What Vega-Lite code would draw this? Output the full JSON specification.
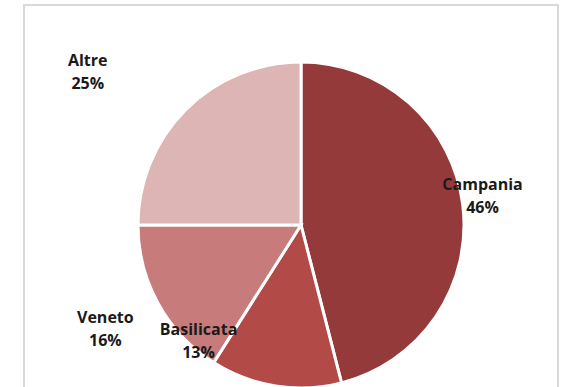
{
  "$schema": "https://vega.github.io/schema/vega-lite/v6.json",
  "width": 534,
  "height": 440,
  "padding": {"left": 23, "top": 4, "right": 11, "bottom": 0},
  "background": "white",
  "config": {"view": {"stroke": null}},
  "data": {"values": [
    {"region": "Campania", "value": 46, "idx": 1},
    {"region": "Basilicata", "value": 13, "idx": 2},
    {"region": "Veneto", "value": 16, "idx": 3},
    {"region": "Altre", "value": 25, "idx": 4}
  ]},
  "layer": [
    {
      "data": {"values": [{"frame": 1}]},
      "mark": {"type": "rect", "fill": null, "fillOpacity": 0, "stroke": "#d9d9d9", "strokeWidth": 2},
      "encoding": {}
    },
    {
      "transform": [{"calculate": "datum.region + '\\n' + datum.value + '%'", "as": "label"}],
      "encoding": {
        "theta": {"field": "value", "type": "quantitative", "stack": true},
        "order": {"field": "idx", "type": "quantitative", "sort": "ascending"}
      },
      "layer": [
        {
          "mark": {"type": "arc", "radius": 163, "stroke": "white", "strokeWidth": 3, "xOffset": 10},
          "encoding": {
            "color": {"field": "region", "type": "nominal", "legend": null,
              "scale": {"domain": ["Campania", "Basilicata", "Veneto", "Altre"],
                        "range": ["#953a3a", "#b24a48", "#c77c7b", "#deb5b5"]}}
          }
        },
        {
          "mark": {"type": "text", "radius": 183, "xOffset": 10, "dy": -17, "font": "Open Sans", "fontWeight": "bold", "fontSize": 16, "lineHeight": 23, "lineBreak": "\n", "color": "#1a1a1a"},
          "encoding": {"text": {"condition": {"test": "datum.region === 'Campania'", "field": "label"}, "value": ""}}
        },
        {
          "mark": {"type": "text", "radius": 262, "xOffset": 10, "dx": -28, "dy": 21, "font": "Open Sans", "fontWeight": "bold", "fontSize": 16, "lineHeight": 23, "lineBreak": "\n", "color": "#1a1a1a"},
          "encoding": {"text": {"condition": {"test": "datum.region === 'Altre'", "field": "label"}, "value": ""}}
        },
        {
          "mark": {"type": "text", "radius": 221, "xOffset": 10, "dx": -2, "dy": -13, "font": "Open Sans", "fontWeight": "bold", "fontSize": 16, "lineHeight": 23, "lineBreak": "\n", "color": "#1a1a1a"},
          "encoding": {"text": {"condition": {"test": "datum.region === 'Veneto'", "field": "label"}, "value": ""}}
        },
        {
          "mark": {"type": "text", "radius": 118, "xOffset": 10, "dx": -84, "dy": -12, "font": "Open Sans", "fontWeight": "bold", "fontSize": 16, "lineHeight": 23, "lineBreak": "\n", "color": "#1a1a1a"},
          "encoding": {"text": {"condition": {"test": "datum.region === 'Basilicata'", "field": "label"}, "value": ""}}
        }
      ]
    }
  ]
}
